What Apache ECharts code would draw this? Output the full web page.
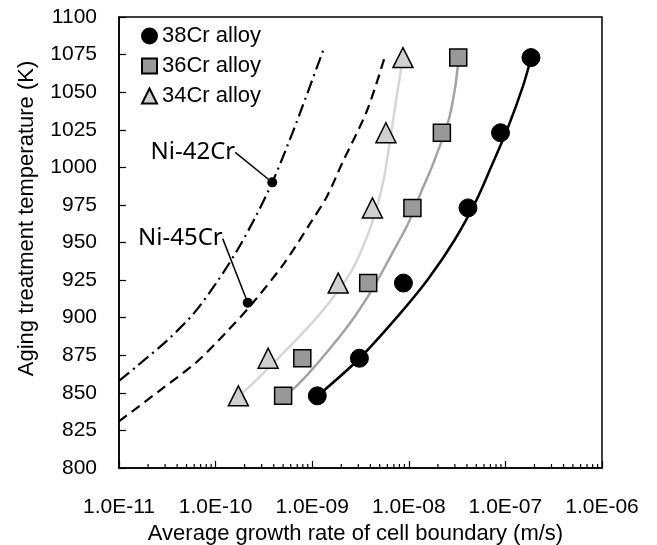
<!DOCTYPE html>
<html>
<head>
<meta charset="utf-8">
<script src="https://cdn.jsdelivr.net/npm/echarts@6/dist/echarts.min.js"></script>
<style>
  html, body { margin: 0; padding: 0; background: #fff; }
  #chart { width: 657px; height: 545px; }
</style>
</head>
<body>
<div id="chart"></div>
<script>
// Aging temperatures (K) of the measured samples
const temps = [848, 873, 923, 973, 1023, 1073];
// Measured growth rates of the cell boundary (m/s)
const cr38 = [1.13e-9, 3.08e-9, 8.8e-9, 4.1e-8, 8.9e-8, 1.84e-7];
const cr36 = [5.0e-10, 7.9e-10, 3.8e-9, 1.09e-8, 2.2e-8, 3.25e-8];
const cr34 = [1.72e-10, 3.5e-10, 1.86e-9, 4.2e-9, 5.8e-9, 8.7e-9];

// Fitted curves: temperature (K) and rate (m/s) along each curve
const fit38T = [848, 873, 903, 926, 952, 978, 1001, 1027, 1054, 1073];
const fit38V = [1.14e-9, 3.1e-9, 8.2e-9, 1.6e-8, 3.0e-8, 5.0e-8, 7.2e-8, 1.07e-7, 1.52e-7, 1.85e-7];
const fit36T = [848, 855, 872, 897, 919, 941, 963, 983, 1001, 1030, 1052, 1073];
const fit36V = [5.1e-10, 7.0e-10, 1.22e-9, 2.5e-9, 4.2e-9, 6.5e-9, 9.9e-9, 1.33e-8, 1.75e-8, 2.55e-8, 3.0e-8, 3.28e-8];
const fit34T = [848, 857, 879, 903, 930, 952, 972, 992, 1018, 1045, 1073];
const fit34V = [1.74e-10, 2.5e-10, 5.5e-10, 1.22e-9, 2.49e-9, 3.6e-9, 4.6e-9, 5.5e-9, 6.4e-9, 7.4e-9, 8.7e-9];

// Binary Ni-Cr reference curves
const ni42T = [858, 868, 885, 903, 924, 945, 967, 990, 1014, 1037, 1079];
const ni42V = [1.0e-11, 1.55e-11, 3.17e-11, 5.97e-11, 1.04e-10, 1.68e-10, 2.59e-10, 3.86e-10, 5.51e-10, 7.57e-10, 1.32e-9];
const ni45T = [831, 852, 871, 891, 908, 936, 963, 981, 1003, 1038, 1075];
const ni45V = [1.0e-11, 2.7e-11, 6.5e-11, 1.32e-10, 2.3e-10, 5.1e-10, 9.6e-10, 1.43e-9, 2.05e-9, 3.71e-9, 5.73e-9];

// Labelled reference points on the binary curves
const ni42Mark = [3.86e-10, 990];
const ni45Mark = [2.15e-10, 910];

// Axis settings
const xMin = 1e-11, xMax = 1e-6;
const yMin = 800, yMax = 1100, yStep = 25;
const seriesNames = ['38Cr alloy', '36Cr alloy', '34Cr alloy'];

function pairs(xs, ys) { return xs.map((x, i) => [x, ys[i]]); }
function fmtExp(v) {
  const e = Math.round(Math.log10(v));
  const s = String(Math.abs(e)).padStart(2, '0');
  return '1.0E' + (e < 0 ? '-' : '+') + s;
}

// Minor log ticks (2..9 within each decade)
const minorTicks = [];
for (let d = Math.round(Math.log10(xMin)); d < Math.round(Math.log10(xMax)); d++) {
  for (let k = 2; k <= 9; k++) minorTicks.push([k * Math.pow(10, d), yMin]);
}

const numFont = 'Liberation Sans, Arial, sans-serif';
const chart = echarts.init(document.getElementById('chart'), null, { renderer: 'canvas' });

const fitLine = (name, xs, ys, color) => ({
  type: 'line', name: name + ' fit', data: pairs(ys, xs),
  showSymbol: false, smooth: 0.3, silent: true, z: 2,
  lineStyle: { color: color, width: 2.5 }
});
const niLine = (xs, ys, dash) => ({
  type: 'line', data: pairs(ys, xs), showSymbol: false, smooth: 0.3, silent: true, z: 2,
  lineStyle: { color: '#000', width: 2.2, type: dash }
});
const niMark = (pt, text, dx, dy) => ({
  type: 'scatter', data: [pt], symbol: 'circle', symbolSize: 10, z: 4, silent: true,
  itemStyle: { color: '#000', opacity: 1 },
  label: { show: true, position: 'left', formatter: text, fontFamily: 'Noto Sans', fontSize: 24, color: '#000' },
  labelLayout: { dx: dx, dy: dy },
  labelLine: { show: true, lineStyle: { color: '#000', width: 1.5 } }
});

chart.setOption({
  animation: false,
  backgroundColor: '#fff',
  grid: {
    left: 119, right: 55, top: 17, bottom: 77, outerBoundsMode: 'none',
    show: true, borderColor: '#000', borderWidth: 1.5
  },
  legend: {
    data: [
      { name: seriesNames[0], icon: 'circle' },
      { name: seriesNames[1], icon: 'rect' },
      { name: seriesNames[2], icon: 'triangle' }
    ],
    orient: 'vertical', left: 141, top: 25, itemGap: 8, padding: 0,
    itemWidth: 15, itemHeight: 15,
    textStyle: { fontFamily: numFont, fontSize: 22, color: '#000' },
    selectedMode: false
  },
  xAxis: {
    type: 'log', logBase: 10, min: xMin, max: xMax, interval: 1,
    name: 'Average growth rate of cell boundary (m/s)', nameLocation: 'middle', nameGap: 51,
    nameTextStyle: { fontFamily: numFont, fontSize: 22, color: '#000', padding: [0, 10, 0, 0] },
    axisLine: { lineStyle: { color: '#000', width: 1.5 } },
    axisTick: { inside: true, length: 7, lineStyle: { color: '#000', width: 1.2 } },
    axisLabel: { formatter: fmtExp, fontFamily: numFont, fontSize: 21, color: '#000', margin: 29 },
    splitLine: { show: false }, minorTick: { show: false }
  },
  yAxis: {
    type: 'value', min: yMin, max: yMax, interval: yStep,
    name: 'Aging treatment temperature (K)', nameLocation: 'middle', nameGap: 81,
    nameTextStyle: { fontFamily: numFont, fontSize: 22, color: '#000', padding: [0, 0, 0, 48] },
    axisLine: { lineStyle: { color: '#000', width: 1.5 } },
    axisTick: { inside: true, length: 7, lineStyle: { color: '#000', width: 1.2 } },
    axisLabel: { formatter: (v) => String(v), fontFamily: numFont, fontSize: 21, color: '#000', margin: 22 },
    splitLine: { show: false }
  },
  series: [
    {
      type: 'custom', silent: true, z: 1, data: minorTicks, encode: { x: 0, y: 1 },
      renderItem: (params, api) => {
        const p = api.coord([api.value(0), api.value(1)]);
        return { type: 'line', shape: { x1: p[0], y1: p[1], x2: p[0], y2: p[1] - 4 },
                 style: { stroke: '#000', lineWidth: 1.2 } };
      }
    },
    niLine(ni42T, ni42V, [13, 5, 2, 5]),
    niLine(ni45T, ni45V, [10, 6]),
    fitLine(seriesNames[0], fit38T, fit38V, '#000'),
    fitLine(seriesNames[1], fit36T, fit36V, '#a3a3a3'),
    fitLine(seriesNames[2], fit34T, fit34V, '#d6d6d6'),
    {
      type: 'scatter', name: seriesNames[0], data: pairs(cr38, temps), symbol: 'circle', symbolSize: 18, z: 5,
      itemStyle: { color: '#000', borderColor: '#000', borderWidth: 1, opacity: 1 }
    },
    {
      type: 'scatter', name: seriesNames[1], data: pairs(cr36, temps), symbol: 'rect', symbolSize: 17, z: 5,
      itemStyle: { color: '#999999', borderColor: '#000', borderWidth: 1.5, opacity: 1 }
    },
    {
      type: 'scatter', name: seriesNames[2], data: pairs(cr34, temps), symbol: 'triangle', symbolSize: 20, z: 5,
      itemStyle: { color: '#d0d0d0', borderColor: '#000', borderWidth: 1.5, opacity: 1 }
    },
    niMark(ni42Mark, 'Ni-42Cr', -27, -30),
    niMark(ni45Mark, 'Ni-45Cr', -15, -64)
  ]
});
</script>
</body>
</html>
